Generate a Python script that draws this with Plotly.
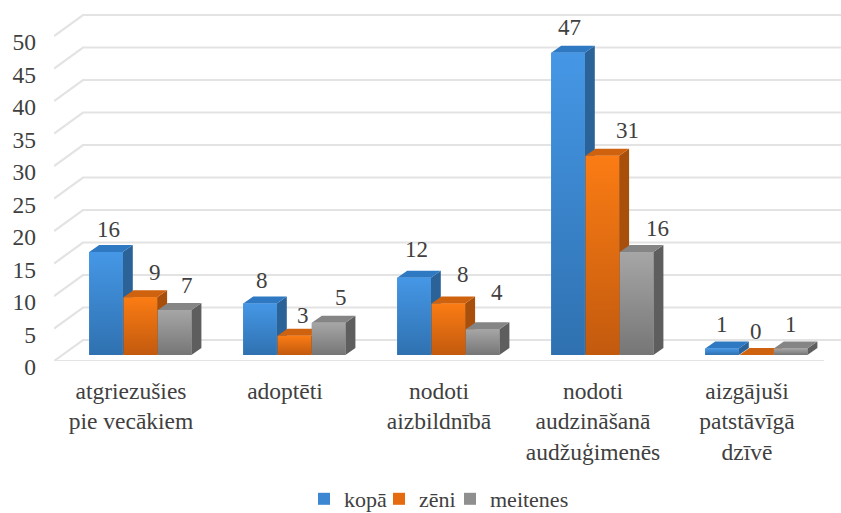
import plotly.graph_objects as go

categories = ["atgriezušies<br>pie vecākiem", "adoptēti", "nodoti<br>aizbildnībā",
              "nodoti<br>audzināšanā<br>audžuģimenēs", "aizgājuši<br>patstāvīgā<br>dzīvē"]
kopa = [16, 8, 12, 47, 1]
zeni = [9, 3, 8, 31, 0]
meitenes = [7, 5, 4, 16, 1]
series_names = ["kopā", "zēni", "meitenes"]
y_ticks = list(range(0, 55, 5))

series = [kopa, zeni, meitenes]
flat = ["#3d86d2", "#e56a10", "#8f8f8f"]
grad = [("#2f71b0", "#4597e6"), ("#c25a0e", "#fb7c14"), ("#767676", "#a6a6a6")]
side = ["#2b6298", "#a84f0c", "#5e5e5e"]
top = ["#2f79c2", "#cf620f", "#858585"]
TXT = "#404040"
FONT = "Liberation Serif"

# label offsets in pixels from each bar's top centre
lab_dx = [[2, 2, 2, 1, 0], [15, 9, 15, 25, 0], [12, 12, 14, 21, 0]]
lab_dy = [[23, 23, 28, 25, 24], [25, 20, 29, 25, 24], [24, 25, 37, 24, 24]]

L, R, T, B = 54, 841, 8, 361
W = 841; H = 513
GROUP = 154.0
WALL = 6.5      # px per unit on the wall axis
BAR = 6.43      # px per unit on the bar plane
BASE = 355
GROUP_CENTER = 140.3
LEG_X = [304, 379, 450]
LEG_Y = 499

fig = go.Figure()

# walls
wx, wy = [], []
back_dx = 29 / GROUP
back_dy = 21 / WALL
for v in y_ticks:
    wx += [-0.5, -0.5 + back_dx, 4.5 + back_dx, None]
    wy += [v, v + back_dy, v + back_dy, None]
wx += [-0.5, 4.5, None]
wy += [0, 0, None]
fig.add_trace(go.Scatter(x=wx, y=wy, mode="lines", line=dict(color="#e3e3e3", width=2.2),
                         cliponaxis=False, showlegend=False, hoverinfo="skip"))

PITCH = 34.3 / GROUP
BW = 33.6 / GROUP
DX = 10 / GROUP
DY = 7 / BAR
legend_ids = ["legend", "legend2", "legend3"]

for j, vals in enumerate(series):
    xs = [i + (j - 1) * PITCH for i in range(len(vals))]
    fig.add_trace(go.Bar(x=xs, y=vals, width=BW, name=series_names[j], marker=dict(color=flat[j], line_width=0),
                         xaxis="x2", yaxis="y2", hoverinfo="skip", legend=legend_ids[j], showlegend=True))

for j, vals in enumerate(series):
    xs = [i + (j - 1) * PITCH for i in range(len(vals))]
    sx, sy, tx, ty = [], [], [], []
    for x, v in zip(xs, vals):
        l, r = x - BW / 2, x + BW / 2
        sx += [r, r + DX, r + DX, r, r, None]
        sy += [0, DY, v + DY, v, 0, None]
        tx += [l, l + DX, r + DX, r, l, None]
        ty += [v, v + DY, v + DY, v, v, None]
    fig.add_trace(go.Scatter(x=sx, y=sy, mode="lines", fill="toself", fillcolor=side[j], line=dict(width=0),
                             xaxis="x2", yaxis="y2", showlegend=False, hoverinfo="skip", cliponaxis=False))
    fig.add_trace(go.Scatter(x=tx, y=ty, mode="lines", fill="toself", fillcolor=top[j], line=dict(width=0),
                             xaxis="x2", yaxis="y2", showlegend=False, hoverinfo="skip", cliponaxis=False))
    for x, v in zip(xs, vals):
        if v == 0:
            continue
        l, r = x - BW / 2, x + BW / 2
        fig.add_trace(go.Scatter(x=[l, r, r, l, l], y=[0, 0, v, v, 0], mode="lines", fill="toself",
                                 fillgradient=dict(type="vertical", colorscale=[[0, grad[j][0]], [1, grad[j][1]]]),
                                 line=dict(width=0), xaxis="x2", yaxis="y2", showlegend=False, hoverinfo="skip"))
    for i, (x, v) in enumerate(zip(xs, vals)):
        fig.add_annotation(x=x, y=v, xref="x2", yref="y2", text=str(v), showarrow=False,
                           xshift=lab_dx[j][i], yshift=lab_dy[j][i],
                           font=dict(family=FONT, size=23, color=TXT), xanchor="center", yanchor="middle")

plot_h = B - T
legend_common = dict(orientation="h", xref="container", yref="container", xanchor="left", yanchor="middle",
                     y=1 - LEG_Y / H, font=dict(family=FONT, size=22, color=TXT), bgcolor="rgba(0,0,0,0)",
                     itemclick=False, itemdoubleclick=False)
fig.update_layout(
    width=W, height=H, autosize=False,
    margin=dict(l=L, r=W - R, t=T, b=H - B, pad=0),
    paper_bgcolor="white", plot_bgcolor="white",
    barmode="overlay",
    font=dict(family=FONT, size=23, color=TXT),
    xaxis=dict(range=[-0.5, (R - L) / GROUP - 0.5], tickmode="array", tickvals=list(range(5)), ticktext=categories,
               showgrid=False, zeroline=False, showline=False, ticks="", ticklabelstandoff=13,
               tickangle=0, tickfont=dict(family=FONT, size=23.5, color=TXT)),
    yaxis=dict(range=[0, plot_h / WALL], tickmode="array", tickvals=y_ticks, ticktext=[str(v) for v in y_ticks],
               showgrid=False, zeroline=False, showline=False, ticks="", ticklabelstandoff=17, ticklabelshift=6,
               tickfont=dict(family=FONT, size=23.5, color=TXT)),
    xaxis2=dict(overlaying="x", range=[(L - GROUP_CENTER) / GROUP, (R - GROUP_CENTER) / GROUP], visible=False),
    yaxis2=dict(overlaying="y", range=[-(B - BASE) / BAR, (BASE - T) / BAR], visible=False),
    legend=dict(x=LEG_X[0] / W, **legend_common),
    legend2=dict(x=LEG_X[1] / W, **legend_common),
    legend3=dict(x=LEG_X[2] / W, **legend_common),
    showlegend=True,
)

fig.write_html("out.html", post_script="document.body.style.margin='0';", config={"displayModeBar": False})
